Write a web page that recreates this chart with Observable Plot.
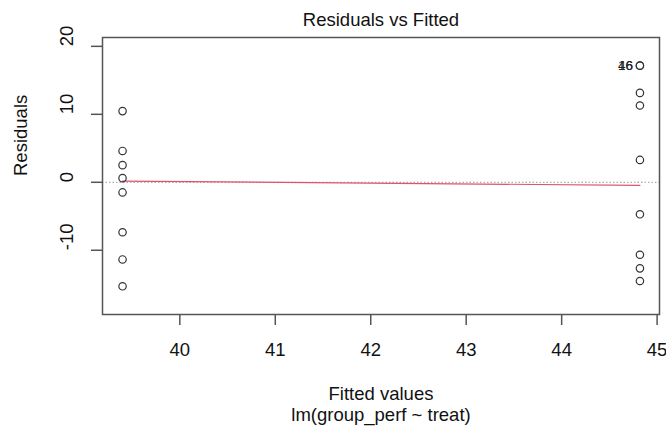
<!DOCTYPE html>
<html>
<head>
<meta charset="utf-8">
<script src="https://cdn.jsdelivr.net/npm/d3@7"></script>
<script src="https://cdn.jsdelivr.net/npm/@observablehq/plot@0.6"></script>
<style>
  html, body { margin: 0; padding: 0; background: #fff; }
  #chart svg { display: block; }
</style>
</head>
<body>
<div id="chart"></div>
<script>
// Fitted values for the two treatment groups
const fittedLevels = [39.4, 44.82];
// Residuals
const residualsLow = [10.47, 4.61, 2.52, 0.61, -1.49, -7.35, -11.35, -15.3];
const residualsHigh = [17.16, 17.16, 13.15, 11.3, 3.29, -4.71, -10.66, -12.66, -14.52];
// Labeled extreme observations (overlapping at the top-right point)
const labelIds = ["16", "46"];
const labelResid = 17.16;
// Smoother (red line)
const smoothFitted = [39.4, 44.82];
const smoothResid = [0.17, -0.45];
// Ticks
const xTicks = [40, 41, 42, 43, 44, 45];
const yTicks = [-10, 0, 10, 20];

const points = [
  ...residualsLow.map(r => ({fitted: fittedLevels[0], resid: r})),
  ...residualsHigh.map(r => ({fitted: fittedLevels[1], resid: r}))
];
const labels = labelIds.map(id => ({fitted: fittedLevels[1], resid: labelResid, id}));
const smooth = smoothFitted.map((f, i) => ({fitted: f, resid: smoothResid[i]}));

const font = "'Liberation Sans', Arial, sans-serif";
const txt = {fontSize: 18.5, fill: "#111", lineAnchor: "middle"};

const chart = Plot.plot({
  width: 666,
  height: 427,
  marginLeft: 102,
  marginRight: 7,
  marginTop: 37,
  marginBottom: 113,
  style: {fontFamily: font, color: "#555", background: "#fff"},
  x: {domain: [39.19, 45.025]},
  y: {domain: [-19.45, 21.3]},
  marks: [
    Plot.ruleY([0], {stroke: "#999", strokeDasharray: "1.5,2", strokeWidth: 1}),
    Plot.line(smooth, {x: "fitted", y: "resid", stroke: "#DF536B", strokeWidth: 1.2}),
    Plot.dot(points, {x: "fitted", y: "resid", r: 3.7, stroke: "#333", strokeWidth: 1.2, fill: "none"}),
    Plot.text(labels, {x: "fitted", y: "resid", text: "id", textAnchor: "end", dx: -7, fontSize: 13.5, fill: "#222", lineAnchor: "middle"}),
    Plot.frame({stroke: "#555", strokeWidth: 1.5}),
    Plot.axisX({ticks: xTicks, tickSize: 11, tickFormat: () => "", label: null, stroke: "#555", strokeWidth: 1.5}),
    Plot.axisY({ticks: yTicks, tickSize: 11, tickFormat: () => "", label: null, stroke: "#555", strokeWidth: 1.5}),
    Plot.text(xTicks, {x: d => d, text: d => String(d), frameAnchor: "bottom", dy: 35.5, ...txt}),
    Plot.text(yTicks, {y: d => d, text: d => String(d), frameAnchor: "left", dx: -35, rotate: -90, ...txt}),
    Plot.text(["Residuals vs Fitted"], {frameAnchor: "top", dy: -17, ...txt}),
    Plot.text(["Fitted values"], {frameAnchor: "bottom", dy: 80, ...txt}),
    Plot.text(["lm(group_perf ~ treat)"], {frameAnchor: "bottom", dy: 101, ...txt}),
    Plot.text(["Residuals"], {frameAnchor: "left", dx: -81, rotate: -90, ...txt})
  ]
});
document.getElementById("chart").appendChild(chart);
</script>
</body>
</html>
